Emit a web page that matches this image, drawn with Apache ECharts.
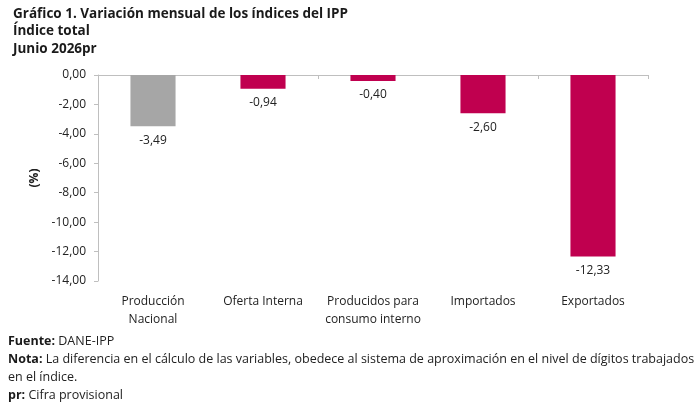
<!DOCTYPE html>
<html><head><meta charset="utf-8">
<script src="https://cdn.jsdelivr.net/npm/echarts@6/dist/echarts.min.js"></script>
<style>html,body{margin:0;padding:0;background:#fff}#c{width:700px;height:406px}</style>
</head><body><div id="c"></div>
<script>
const categories = ['Producción\nNacional', 'Oferta Interna', 'Producidos para\nconsumo interno', 'Importados', 'Exportados'];
const values = [-3.49, -0.94, -0.40, -2.60, -12.33];
const barColors = ['#A6A6A6', '#C0004F', '#C0004F', '#C0004F', '#C0004F'];
const yTicks = {min: -14, max: 0, interval: 2};
const FONT = 'Open Sans';
const fmt = v => v.toFixed(2).replace('.', ',');
const chart = echarts.init(document.getElementById('c'));
chart.setOption({
  animation: false,
  textStyle: {fontFamily: FONT},
  title: {
    text: 'Gráfico 1. Variación mensual de los índices del IPP\nÍndice total\nJunio 2026pr',
    left: 8, top: 0,
    textStyle: {fontFamily: FONT, fontSize: 13.5, fontWeight: 'bold', color: '#1a1a1a', lineHeight: 17.5}
  },
  grid: {left: 98, right: 52, top: 75, bottom: 125, containLabel: false},
  xAxis: [{
    type: 'category', data: categories, position: 'bottom',
    axisLine: {show: false, onZero: false}, axisTick: {show: false},
    axisLabel: {color: '#222', fontSize: 12, margin: 12, lineHeight: 18, interval: 0}
  }, {
    type: 'category', data: categories, position: 'top',
    axisLine: {show: true, lineStyle: {color: '#BFBFBF'}},
    axisTick: {show: true, inside: true, length: 4, lineStyle: {color: '#BFBFBF'}},
    axisLabel: {show: false}
  }],
  yAxis: {
    type: 'value', min: yTicks.min, max: yTicks.max, interval: yTicks.interval,
    name: '(%)', nameLocation: 'middle', nameGap: 57, nameRotate: 90,
    nameTextStyle: {fontWeight: 'bold', fontSize: 12, color: '#222'},
    axisLine: {show: true, lineStyle: {color: '#BFBFBF'}},
    axisTick: {show: true, length: 4, lineStyle: {color: '#BFBFBF'}},
    splitLine: {show: false},
    axisLabel: {color: '#222', fontSize: 12, margin: 12, formatter: v => fmt(v)}
  },
  series: [{
    type: 'bar', xAxisIndex: 1, barWidth: '41%',
    data: values.map((v, i) => ({value: v, itemStyle: {color: barColors[i]}})),
    label: {show: true, position: 'bottom', distance: 8, color: '#222', fontSize: 12, formatter: p => fmt(p.value)}
  }],
  graphic: [{
    type: 'text', left: 8, top: 332,
    style: {
      text: '{b|Fuente:} DANE-IPP\n{b|Nota:} La diferencia en el cálculo de las variables, obedece al sistema de aproximación en el nivel de dígitos trabajados\nen el índice.\n{b|pr:} Cifra provisional',
      font: '12.5px "Open Sans"', fill: '#222', lineHeight: 18,
      rich: {b: {fontWeight: 'bold', fontSize: 12.5, fontFamily: FONT, fill: '#1a1a1a', lineHeight: 18}}
    }
  }]
});
</script></body></html>
